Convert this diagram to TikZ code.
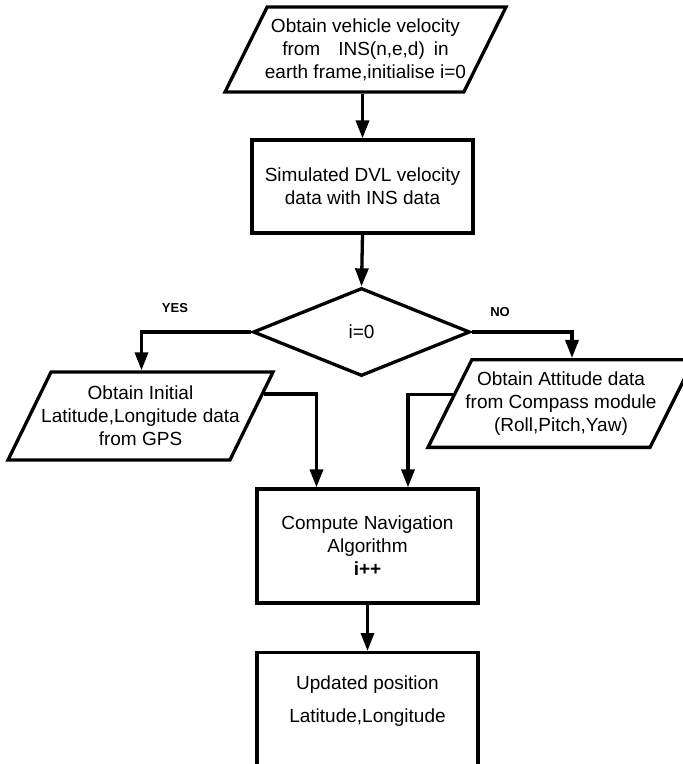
\documentclass[tikz,border=0pt]{standalone}
\usepackage{fontspec}
\setmainfont{Liberation Sans}
\usetikzlibrary{shapes.geometric,arrows.meta,calc}
\begin{document}
\begin{tikzpicture}[x=1pt,y=-1pt,
  every node/.style={font=\fontsize{19}{23}\selectfont},
  flow/.style={draw=black, line width=3.3pt, fill=white, align=center, inner sep=0pt},
  procbox/.style={flow, rectangle, minimum width=221pt},
  iobox/.style={flow, trapezium, trapezium left angle=63.4, trapezium right angle=116.6,
    trapezium stretches body, inner xsep=-11pt, inner ysep=12pt},
  decision/.style={flow, diamond, minimum width=217pt, minimum height=88pt},
  conn/.style={line width=3.3pt, -{Triangle[length=18pt,width=13pt]}},
  branch/.style={font=\fontsize{13}{15}\selectfont\bfseries}
]
\useasboundingbox (0,0) rectangle (683,764);
\clip (0,0) rectangle (683,764);
\fill[white] (0,0) rectangle (683,764);

% flowchart blocks
\node[iobox, minimum width=281pt, minimum height=85pt, inner ysep=11pt] (src) at (365.5,49.5)
  {Obtain vehicle velocity\\ from\hspace{18pt}INS(n,e,d)\hspace{9pt}in\\ earth frame,initialise i=0};
\node[procbox, minimum height=93pt] (dvl) at (362.5,186.5)
  {Simulated DVL velocity\\ data with INS data};
\node[decision] (chk) at (361.5,332) {i=0};
\node[iobox, minimum width=265pt, minimum height=88pt, inner ysep=13pt] (gps) at (140.5,416)
  {Obtain Initial\\ Latitude,Longitude data\\ from GPS};
\node[iobox, minimum width=266pt, minimum height=87pt] (att) at (561,403.5)
  {Obtain Attitude data\\ from Compass module\\ (Roll,Pitch,Yaw)};
\node[procbox, minimum height=114pt] (nav) at (367.5,546)
  {Compute Navigation\\ Algorithm\\ \textbf{i++}};
\node[procbox, minimum height=140pt, anchor=north] (upd) at (367.5,651) {};
\node[align=center] (updtxt) at (367.5,701.5) {Updated position\\[10pt] Latitude,Longitude};

% branch labels
\node[branch] (yes) at (175,308) {YES};
\node[branch] (no) at (500,312) {NO};

% connector end points
\coordinate (gpsin) at ([xshift=1pt]gps.center |- gps.north);
\coordinate (attin) at ([xshift=11pt]att.center |- att.north);
\coordinate (gpsout) at ($(gps.top right corner)!0.26!(gps.bottom right corner)$);
\coordinate (attout) at ($(att.top left corner)!0.4!(att.bottom left corner)$);

% connectors
\draw[conn] (src.south -| dvl.north) -- (dvl.north);
\draw[conn] (dvl.south) -- (chk.north);
\draw[conn] (chk.west) -| (gpsin);
\draw[conn] (chk.east) -| (attin);
\draw[conn] (gpsout) -| ([xshift=-51pt]nav.north);
\draw[conn] (attout) -| ([xshift=40.5pt]nav.north);
\draw[conn] (nav.south) -- (upd.north);
\end{tikzpicture}
\end{document}
